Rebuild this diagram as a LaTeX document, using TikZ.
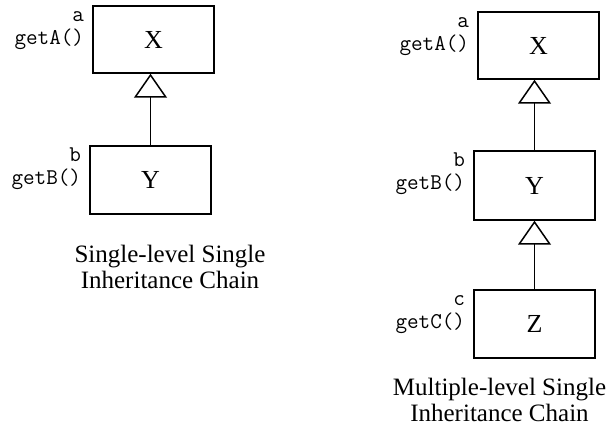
\documentclass[tikz,border=0pt]{standalone}
\usepackage{fontspec}
\setmainfont{Liberation Serif}
\usetikzlibrary{arrows.meta}

\tikzstyle{cls}=[draw, line width=1.5pt, minimum width=121pt, minimum height=67pt, inner sep=0pt, font=\fontsize{26}{26}\selectfont]
\tikzstyle{meth}=[inner sep=0pt, anchor=base east, font=\fontsize{22.5}{22.5}\ttfamily]
\tikzstyle{inherit}=[-{Triangle[open, length=24pt, width=33pt, line width=1.5pt]}, line width=1.5pt]
\tikzstyle{caption}=[align=center, inner sep=0pt, anchor=base, font=\fontsize{25}{26}\selectfont]

\begin{document}
\begin{tikzpicture}[x=1pt, y=1pt]
    \useasboundingbox (0, 0) rectangle (611, 434);

    % single-level chain
    \node[cls] (X1) at (153.5, 394.5) {X};
    \node[cls, minimum height=68pt] (Y1) at (150.5, 254) {Y};
    \node[meth] (a1) at ([xshift=-8pt, yshift=-16pt]X1.north west) {a};
    \node[meth] (getA1) at ([xshift=-8pt, yshift=-39pt]X1.north west) {getA()};
    \node[meth] (b1) at ([xshift=-8pt, yshift=-16pt]Y1.north west) {b};
    \node[meth] (getB1) at ([xshift=-8pt, yshift=-39pt]Y1.north west) {getB()};
    \draw[inherit] (Y1.north) -- (Y1.north |- X1.south);
    \node[caption] (cap1) at (170, 145) {Single-level Single\\Inheritance Chain};

    % multiple-level chain
    \node[cls] (X2) at (538.5, 388.5) {X};
    \node[cls, minimum height=69pt] (Y2) at (534.5, 248.5) {Y};
    \node[cls, minimum height=68pt] (Z2) at (534.5, 110) {Z};
    \node[meth] (a2) at ([xshift=-8pt, yshift=-16pt]X2.north west) {a};
    \node[meth] (getA2) at ([xshift=-8pt, yshift=-39pt]X2.north west) {getA()};
    \node[meth] (b2) at ([xshift=-8pt, yshift=-16pt]Y2.north west) {b};
    \node[meth] (getB2) at ([xshift=-8pt, yshift=-39pt]Y2.north west) {getB()};
    \node[meth] (c2) at ([xshift=-8pt, yshift=-16pt]Z2.north west) {c};
    \node[meth] (getC2) at ([xshift=-8pt, yshift=-39pt]Z2.north west) {getC()};
    \draw[inherit] (Y2.north) -- (Y2.north |- X2.south);
    \draw[inherit] (Z2.north) -- (Z2.north |- Y2.south);
    \node[caption] (cap2) at (499.5, 12) {Multiple-level Single\\Inheritance Chain};
\end{tikzpicture}
\end{document}
